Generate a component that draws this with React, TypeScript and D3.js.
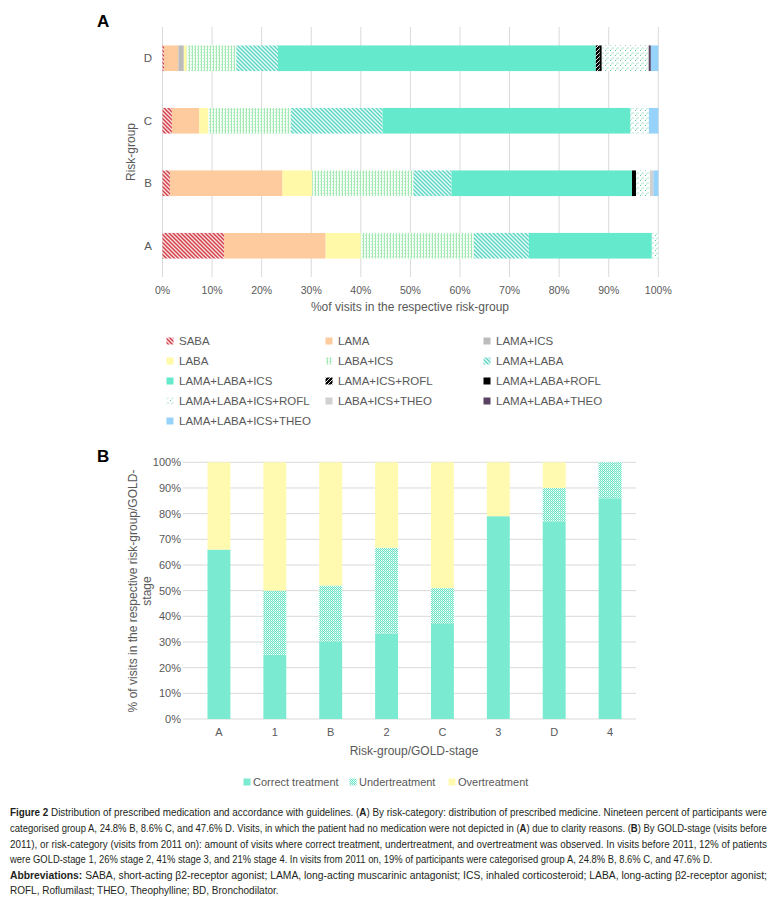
import React from "react";
import * as d3 from "d3";

// ---------- Panel A data (order: A, B, C, D) ----------
const groupsA = ["A", "B", "C", "D"];
const yOrderA = ["D", "C", "B", "A"];
const SABA = [12.4, 1.5, 1.9, 0.3];
const LAMA = [20.5, 22.7, 5.5, 2.9];
const LAMA_ICS = [0, 0, 0, 1.1];
const LABA = [7.1, 6.0, 1.8, 0.6];
const LABA_ICS = [22.8, 20.4, 16.7, 10.0];
const LAMA_LABA = [11.1, 7.7, 18.5, 8.4];
const LAMA_LABA_ICS = [24.8, 36.4, 50.0, 64.1];
const LAMA_ICS_ROFL = [0, 0, 0, 0.8];
const LAMA_LABA_ROFL = [0, 0.8, 0, 0.4];
const LAMA_LABA_ICS_ROFL = [1.3, 2.8, 3.7, 9.3];
const LABA_ICS_THEO = [0, 0.7, 0, 0.2];
const LAMA_LABA_THEO = [0, 0, 0, 0.4];
const LAMA_LABA_ICS_THEO = [0, 1.0, 1.9, 1.5];
const xTicksA = [0, 10, 20, 30, 40, 50, 60, 70, 80, 90, 100];

const seriesA = [
  { key: "SABA", values: SABA, fill: "url(#pSABA)" },
  { key: "LAMA", values: LAMA, fill: "#fdcb9d" },
  { key: "LAMA+ICS", values: LAMA_ICS, fill: "#bcbcbc" },
  { key: "LABA", values: LABA, fill: "#fff9a8" },
  { key: "LABA+ICS", values: LABA_ICS, fill: "url(#pLABAICS)" },
  { key: "LAMA+LABA", values: LAMA_LABA, fill: "url(#pLAMALABA)" },
  { key: "LAMA+LABA+ICS", values: LAMA_LABA_ICS, fill: "#65e9cc" },
  { key: "LAMA+ICS+ROFL", values: LAMA_ICS_ROFL, fill: "url(#pICSROFL)" },
  { key: "LAMA+LABA+ROFL", values: LAMA_LABA_ROFL, fill: "#000000" },
  { key: "LAMA+LABA+ICS+ROFL", values: LAMA_LABA_ICS_ROFL, fill: "url(#pTRIROFL)" },
  { key: "LABA+ICS+THEO", values: LABA_ICS_THEO, fill: "#d0d0d0" },
  { key: "LAMA+LABA+THEO", values: LAMA_LABA_THEO, fill: "#5c4262" },
  { key: "LAMA+LABA+ICS+THEO", values: LAMA_LABA_ICS_THEO, fill: "#97d2fa" },
];

// ---------- Panel B data ----------
const stagesB = ["A", "1", "B", "2", "C", "3", "D", "4"];
const correctB = [66, 25, 30, 33.3, 37, 79, 77, 86];
const underB = [0, 25, 22, 33.4, 14, 0, 13, 14];
const overB = [34, 50, 48, 33.3, 49, 21, 10, 0];
const yTicksB = [0, 10, 20, 30, 40, 50, 60, 70, 80, 90, 100];

const seriesB = [
  { key: "Correct treatment", values: correctB, fill: "#7aebd0" },
  { key: "Undertreatment", values: underB, fill: "url(#pUNDER)" },
  { key: "Overtreatment", values: overB, fill: "#fffab0" },
];

// ---------- Caption (pieces: [text, bold]) ----------
const captionLines: [string, boolean][][] = [
  [["Figure 2", true], [" Distribution of prescribed medication and accordance with guidelines. (", false], ["A", true], [") By risk-category: distribution of prescribed medicine. Nineteen percent of participants were", false]],
  [["categorised group A, 24.8% B, 8.6% C, and 47.6% D. Visits, in which the patient had no medication were not depicted in (", false], ["A", true], [") due to clarity reasons. (", false], ["B", true], [") By GOLD-stage (visits before", false]],
  [["2011), or risk-category (visits from 2011 on): amount of visits where correct treatment, undertreatment, and overtreatment was observed. In visits before 2011, 12% of patients", false]],
  [["were GOLD-stage 1, 26% stage 2, 41% stage 3, and 21% stage 4. In visits from 2011 on, 19% of participants were categorised group A, 24.8% B, 8.6% C, and 47.6% D.", false]],
  [["Abbreviations:", true], [" SABA, short-acting β2-receptor agonist; LAMA, long-acting muscarinic antagonist; ICS, inhaled corticosteroid; LABA, long-acting β2-receptor agonist;", false]],
  [["ROFL, Roflumilast; THEO, Theophylline; BD, Bronchodilator.", false]],
];
const captionWidths = [758, 758, 758, 703, 758, 269];
const captionY = [816, 832, 848, 863, 879, 894];

const FONT = "'Liberation Sans', Arial, sans-serif";
const GREY = "#595959";
const GRID = "#d9d9d9";
const CAP_SIZE = 10.5;

export default function App() {
  // Panel A scales
  const xA = d3.scaleLinear().domain([0, 100]).range([162.5, 658.3]);
  const yA = d3.scaleBand().domain(yOrderA).range([27, 277]).paddingInner(0.59).paddingOuter(0.295);
  const rowsA = groupsA.map((g, i) => {
    const r: any = { group: g };
    seriesA.forEach((s) => (r[s.key] = s.values[i]));
    return r;
  });
  const stackA = d3.stack().keys(seriesA.map((s) => s.key))(rowsA as any);

  // Panel B scales
  const xB = d3.scaleBand().domain(stagesB).range([191, 638]).paddingInner(0.59).paddingOuter(0.295);
  const yB = d3.scaleLinear().domain([0, 100]).range([719, 462.3]);
  const rowsB = stagesB.map((g, i) => {
    const r: any = { stage: g };
    seriesB.forEach((s) => (r[s.key] = s.values[i]));
    return r;
  });
  const stackB = d3.stack().keys(seriesB.map((s) => s.key))(rowsB as any);

  const legColX = [170, 329, 487];
  const legB = [
    { x: 247, key: seriesB[0].key, fill: seriesB[0].fill },
    { x: 353, key: seriesB[1].key, fill: seriesB[1].fill },
    { x: 452, key: seriesB[2].key, fill: seriesB[2].fill },
  ];

  // measure caption lines to compute horizontal scale for justification
  const ctx = typeof document !== "undefined" ? document.createElement("canvas").getContext("2d") : null;
  const measure = (t: string, bold: boolean) => {
    if (!ctx) return t.length * CAP_SIZE * 0.5;
    ctx.font = `${bold ? "bold " : ""}${CAP_SIZE}px 'Liberation Sans', Arial, sans-serif`;
    return ctx.measureText(t).width;
  };
  const capScales = captionLines.map((pieces, i) => {
    const nat = pieces.reduce((acc, [t, b]) => acc + measure(t, b), 0);
    return captionWidths[i] / nat;
  });

  return (
    <div style={{ position: "absolute", left: 0, top: 0 }}>
      <svg width={779} height={897} style={{ display: "block", background: "#fff" }}>
        <defs>
          <pattern id="pSABA" width="4" height="4" patternUnits="userSpaceOnUse">
            <rect width="4" height="4" fill="#fbe3e3" />
            <path d="M-1,-1 L5,5 M-1,3 L1,5 M3,-1 L5,1" stroke="#d2404b" strokeWidth="1.5" />
          </pattern>
          <pattern id="pLABAICS" width="3" height="3" patternUnits="userSpaceOnUse">
            <rect width="3" height="3" fill="#f4fdf5" />
            <rect x="0" y="0" width="1" height="3" fill="#a3e9b3" />
            <rect x="2" y="1" width="1" height="1" fill="#bdefc8" />
          </pattern>
          <pattern id="pLAMALABA" width="4" height="4" patternUnits="userSpaceOnUse">
            <rect width="4" height="4" fill="#e9fbf7" />
            <path d="M-1,-1 L5,5 M-1,3 L1,5 M3,-1 L5,1" stroke="#5cd6c4" strokeWidth="1.4" />
          </pattern>
          <pattern id="pICSROFL" width="4" height="4" patternUnits="userSpaceOnUse">
            <rect width="4" height="4" fill="#000" />
            <path d="M-1,5 L5,-1 M-1,1 L1,-1 M3,5 L5,3" stroke="#fff" strokeWidth="0.9" />
          </pattern>
          <pattern id="pTRIROFL" width="5" height="5" patternUnits="userSpaceOnUse">
            <rect width="5" height="5" fill="#fff" />
            <rect x="0" y="0" width="1" height="1" fill="#5cc89c" />
            <rect x="2.5" y="2.5" width="1" height="1" fill="#5cc89c" />
            <rect x="1" y="3.5" width="1" height="1" fill="#9fe0c4" />
          </pattern>
          <pattern id="pUNDER" width="2" height="2" patternUnits="userSpaceOnUse">
            <rect width="2" height="2" fill="#ffffff" />
            <rect x="0" y="0" width="1" height="1" fill="#6fe3c6" />
            <rect x="1" y="1" width="1" height="1" fill="#6fe3c6" />
            <rect x="0" y="1" width="1" height="1" fill="#c4f5e9" />
          </pattern>
        </defs>

        {/* ---------------- Panel A ---------------- */}
        <text x={97} y={27} fontFamily={FONT} fontWeight="bold" fontSize={17} fill="#000">A</text>
        {xTicksA.map((t) => (
          <line key={"ga" + t} x1={xA(t)} x2={xA(t)} y1={27} y2={277} stroke={GRID} strokeWidth={1} />
        ))}
        {stackA.map((layer, li) => (
          <g key={"la" + li} fill={seriesA[li].fill}>
            {layer.map((d: any, j: number) =>
              d[1] - d[0] > 0 ? (
                <rect
                  key={j}
                  x={xA(d[0])}
                  width={xA(d[1]) - xA(d[0])}
                  y={yA(d.data.group)}
                  height={yA.bandwidth()}
                />
              ) : null
            )}
          </g>
        ))}
        {xTicksA.map((t) => (
          <text key={"ta" + t} x={xA(t)} y={294} textAnchor="middle" fontFamily={FONT} fontSize={10.5} fill={GREY}>
            {t + "%"}
          </text>
        ))}
        {yOrderA.map((g) => (
          <text key={"ya" + g} x={152} y={(yA(g) as number) + yA.bandwidth() / 2 + 4} textAnchor="end" fontFamily={FONT} fontSize={11.5} fill={GREY}>
            {g}
          </text>
        ))}
        <text x={410} y={311} textAnchor="middle" fontFamily={FONT} fontSize={12} fill={GREY}>
          %of visits in the respective risk-group
        </text>
        <text transform="translate(135,152) rotate(-90)" textAnchor="middle" fontFamily={FONT} fontSize={12} fill={GREY}>
          Risk-group
        </text>

        {/* Legend A */}
        {seriesA.map((s, i) => {
          const col = i % 3;
          const row = Math.floor(i / 3);
          const cy = 341 + row * 20;
          return (
            <g key={"lg" + i}>
              <rect x={legColX[col] - 3.5} y={cy - 3.5} width={7} height={7} fill={s.fill} />
              <text x={legColX[col] + 9} y={cy + 4} fontFamily={FONT} fontSize={11.5} fill={GREY}>
                {s.key}
              </text>
            </g>
          );
        })}

        {/* ---------------- Panel B ---------------- */}
        <text x={97} y={462} fontFamily={FONT} fontWeight="bold" fontSize={17} fill="#000">B</text>
        {yTicksB.map((t) => (
          <line key={"gb" + t} x1={183} x2={636} y1={yB(t)} y2={yB(t)} stroke={GRID} strokeWidth={1} />
        ))}
        {stackB.map((layer, li) => (
          <g key={"lb" + li} fill={seriesB[li].fill}>
            {layer.map((d: any, j: number) =>
              d[1] - d[0] > 0 ? (
                <rect
                  key={j}
                  x={xB(d.data.stage)}
                  width={xB.bandwidth()}
                  y={yB(d[1])}
                  height={yB(d[0]) - yB(d[1])}
                />
              ) : null
            )}
          </g>
        ))}
        {yTicksB.map((t) => (
          <text key={"tb" + t} x={181} y={yB(t) + 4} textAnchor="end" fontFamily={FONT} fontSize={11} fill={GREY}>
            {t + "%"}
          </text>
        ))}
        {stagesB.map((g) => (
          <text key={"xb" + g} x={(xB(g) as number) + xB.bandwidth() / 2} y={736} textAnchor="middle" fontFamily={FONT} fontSize={11} fill={GREY}>
            {g}
          </text>
        ))}
        <text x={414} y={755} textAnchor="middle" fontFamily={FONT} fontSize={12} fill={GREY}>
          Risk-group/GOLD-stage
        </text>
        <text transform="translate(137,591) rotate(-90)" textAnchor="middle" fontFamily={FONT} fontSize={12} fill={GREY}>
          % of visits in the respective risk-group/GOLD-
        </text>
        <text transform="translate(151,591) rotate(-90)" textAnchor="middle" fontFamily={FONT} fontSize={12} fill={GREY}>
          stage
        </text>
        {legB.map((l) => (
          <g key={"lgb" + l.key}>
            <rect x={l.x - 3.5} y={782 - 3.5} width={7} height={7} fill={l.fill} />
            <text x={l.x + 6} y={786} fontFamily={FONT} fontSize={11} fill={GREY}>
              {l.key}
            </text>
          </g>
        ))}

        {/* ---------------- Caption ---------------- */}
        {captionLines.map((pieces, i) => (
          <g key={"cap" + i} transform={`translate(10,${captionY[i]}) scale(${capScales[i]},1)`}>
            <text x={0} y={0} fontFamily={FONT} fontSize={CAP_SIZE} fill="#231f20" style={{ whiteSpace: "pre" }}>
              {pieces.map(([t, b], k) => (
                <tspan key={k} fontWeight={b ? "bold" : "normal"}>
                  {t}
                </tspan>
              ))}
            </text>
          </g>
        ))}
      </svg>
    </div>
  );
}
